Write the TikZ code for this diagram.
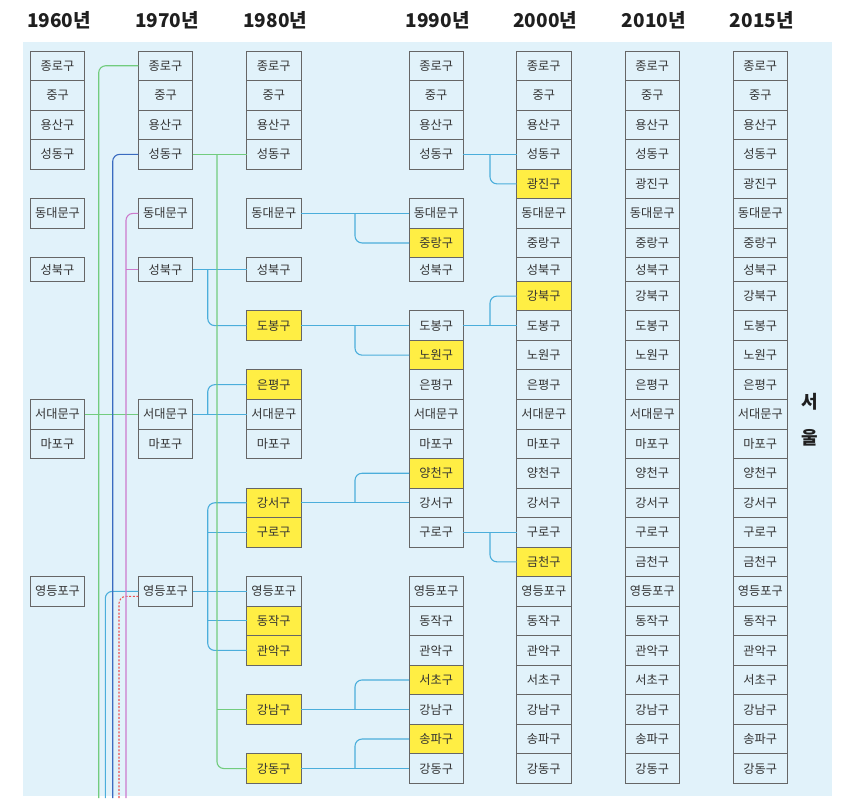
\documentclass[tikz,border=0pt]{standalone}
\usepackage{fontspec}
\newfontfamily\kr{Noto Sans CJK KR}
\usetikzlibrary{positioning, calc}

\definecolor{bgblue}{HTML}{E1F2FA}
\definecolor{newyellow}{HTML}{FFEE44}
\definecolor{lnblue}{HTML}{4BAEDB}
\definecolor{lngreen}{HTML}{72CC7E}
\definecolor{dkblue}{HTML}{3A6BC0}
\definecolor{lnpink}{HTML}{CC7ACC}
\definecolor{lnred}{HTML}{EE4F4F}

% districts of the 2000 column, top to bottom
\def\gulist{1/종로구/bgblue, 2/중구/bgblue, 3/용산구/bgblue, 4/성동구/bgblue, 5/광진구/newyellow, 6/동대문구/bgblue, 7/중랑구/bgblue, 8/성북구/bgblue, 9/강북구/newyellow, 10/도봉구/bgblue, 11/노원구/bgblue, 12/은평구/bgblue, 13/서대문구/bgblue, 14/마포구/bgblue, 15/양천구/bgblue, 16/강서구/bgblue, 17/구로구/bgblue, 18/금천구/newyellow, 19/영등포구/bgblue, 20/동작구/bgblue, 21/관악구/bgblue, 22/서초구/bgblue, 23/강남구/bgblue, 24/송파구/bgblue, 25/강동구/bgblue}

\begin{document}
\begin{tikzpicture}[
		x=1pt, y=-1pt,
		% Define Node Styles
		gu/.style={draw=black!60, line width=0.9pt, rectangle, minimum width=54.3pt, inner sep=0pt, outer sep=0pt, fill=bgblue, text=black!80, font=\kr\fontsize{12.2}{14}\selectfont},
		year/.style={anchor=base, text=black!88, font=\kr\bfseries\fontsize{19}{22}\selectfont},
		city/.style={align=center, text=black!88, font=\kr\bfseries\fontsize{18}{35.6}\selectfont},
		% Define Connector Styles
		link/.style={line width=1.1pt, lnblue, rounded corners=7pt},
		glink/.style={link, lngreen}
	]
	% Background
	\useasboundingbox (0,0) rectangle (853,798);
	\fill[bgblue] (22.7,41.7) rectangle (831.7,796);

	% Columns (baseline of the year labels)
	\coordinate (c60) at (57.5,27.3);
	\coordinate (c70) at (165.5,27.3);
	\coordinate (c80) at (273.8,27.3);
	\coordinate (c90) at (436.2,27.3);
	\coordinate (c00) at (543.8,27.3);
	\coordinate (c10) at (652.3,27.3);
	\coordinate (c15) at (760.3,27.3);

	% Year labels
	\foreach \c/\yr in {60/1960, 70/1970, 80/1980, 90/1990, 00/2000, 10/2010, 15/2015}
		\node[year] (y\c) at ([xshift=1.5pt]c\c) {\yr{}년};

	% 2000 column, full stack
	\coordinate (n00-0) at (543.8,51);
	\foreach \i/\name/\f [remember=\i as \j (initially 0)] in \gulist {
		\pgfmathsetmacro\h{\i==8 ? 23.6 : 29.53}
		\node[gu, fill=\f, minimum height=\h, below=0pt of n00-\j] (n00-\i) {\name};
	}

	% 2010 and 2015 columns
	\foreach \c in {10,15}
		\foreach \i/\name/\f in \gulist {
			\pgfmathsetmacro\h{\i==8 ? 23.6 : 29.53}
			\node[gu, minimum height=\h] (n\c-\i) at (c\c |- n00-\i) {\name};
		}

	% 1960 column
	\foreach \i/\name/\f in {1/종로구/bgblue, 2/중구/bgblue, 3/용산구/bgblue, 4/성동구/bgblue, 6/동대문구/bgblue, 8/성북구/bgblue, 13/서대문구/bgblue, 14/마포구/bgblue, 19/영등포구/bgblue} {
		\pgfmathsetmacro\h{\i==8 ? 23.6 : 29.53}
		\node[gu, fill=\f, minimum height=\h] (n60-\i) at (c60 |- n00-\i) {\name};
	}

	% 1970 column
	\foreach \i/\name/\f in {1/종로구/bgblue, 2/중구/bgblue, 3/용산구/bgblue, 4/성동구/bgblue, 6/동대문구/bgblue, 8/성북구/bgblue, 13/서대문구/bgblue, 14/마포구/bgblue, 19/영등포구/bgblue} {
		\pgfmathsetmacro\h{\i==8 ? 23.6 : 29.53}
		\node[gu, fill=\f, minimum height=\h] (n70-\i) at (c70 |- n00-\i) {\name};
	}

	% 1980 column
	\foreach \i/\name/\f in {1/종로구/bgblue, 2/중구/bgblue, 3/용산구/bgblue, 4/성동구/bgblue, 6/동대문구/bgblue, 8/성북구/bgblue, 10/도봉구/newyellow, 12/은평구/newyellow, 13/서대문구/bgblue, 14/마포구/bgblue, 16/강서구/newyellow, 17/구로구/newyellow, 19/영등포구/bgblue, 20/동작구/newyellow, 21/관악구/newyellow, 23/강남구/newyellow, 25/강동구/newyellow} {
		\pgfmathsetmacro\h{\i==8 ? 23.6 : 29.53}
		\node[gu, fill=\f, minimum height=\h] (n80-\i) at (c80 |- n00-\i) {\name};
	}

	% 1990 column
	\foreach \i/\name/\f in {1/종로구/bgblue, 2/중구/bgblue, 3/용산구/bgblue, 4/성동구/bgblue, 6/동대문구/bgblue, 7/중랑구/newyellow, 8/성북구/bgblue, 10/도봉구/bgblue, 11/노원구/newyellow, 12/은평구/bgblue, 13/서대문구/bgblue, 14/마포구/bgblue, 15/양천구/newyellow, 16/강서구/bgblue, 17/구로구/bgblue, 19/영등포구/bgblue, 20/동작구/bgblue, 21/관악구/bgblue, 22/서초구/newyellow, 23/강남구/bgblue, 24/송파구/newyellow, 25/강동구/bgblue} {
		\pgfmathsetmacro\h{\i==8 ? 23.6 : 29.53}
		\node[gu, fill=\f, minimum height=\h] (n90-\i) at (c90 |- n00-\i) {\name};
	}

	% 1960 -> 1970, lines running off the bottom
	\coordinate (gB) at (98.7,798);
	\coordinate (cB) at (105.3,798);
	\coordinate (bB) at (112.7,798);
	\coordinate (rB) at (119,798);
	\coordinate (pB) at (126,798);
	\draw[glink] (n60-13.east) -- (n70-13.west);
	\draw[glink] (n70-1.west) -| (gB);
	\draw[link] (n70-19.west) -| (cB);
	\draw[link, dkblue] (n70-4.west) -| (bB);
	\draw[link, lnred, dash pattern=on 2pt off 1.6pt] ([yshift=-5pt]n70-19.west) -| (rB);
	\draw[link, lnpink] (n70-6.west) -| (pB);
	\draw[link, lnpink] (n70-8.west) -- (n70-8.west -| pB);

	% 1970 -> 1980
	\coordinate (jg) at ($(n70-4.east)!.45!(n80-4.west)$);
	\coordinate (jb) at ($(n70-8.east)!.28!(n80-8.west)$);
	\draw[link] (n70-8.east) -- (n80-8.west);
	\draw[link] (jb) |- (n80-10.west);
	\draw[link] (n70-13.east) -- (n80-13.west);
	\draw[link] (n80-12.west) -| (jb |- n80-13.west);
	\draw[link] (n70-19.east) -- (n80-19.west);
	\draw[link] (n80-16.west) -| (jb |- n80-21.west) -- (n80-21.west);
	\draw[link] (n80-17.west) -- (n80-17.west -| jb);
	\draw[link] (n80-20.west) -- (n80-20.west -| jb);
	\draw[glink] (n70-4.east) -- (n80-4.west);
	\draw[glink] (jg) |- (n80-25.west);
	\draw[glink] (n80-23.west) -- (n80-23.west -| jg);

	% 1980 -> 1990
	\foreach \a/\b in {6/7, 10/11, 16/15, 23/22, 25/24} {
		\draw[link] (n80-\a.east) -- (n90-\a.west);
		\draw[link] ($(n80-\a.east)!.5!(n90-\a.west)$) |- (n90-\b.west);
	}

	% 1990 -> 2000
	\foreach \a/\b in {4/5, 10/9, 17/18} {
		\draw[link] (n90-\a.east) -- (n00-\a.west);
		\draw[link] ($(n90-\a.east)!.5!(n00-\a.west)$) |- (n00-\b.west);
	}

	% Region label
	\node[city] (seoul) at (809.5,419.5) {서\\울};
\end{tikzpicture}
\end{document}
